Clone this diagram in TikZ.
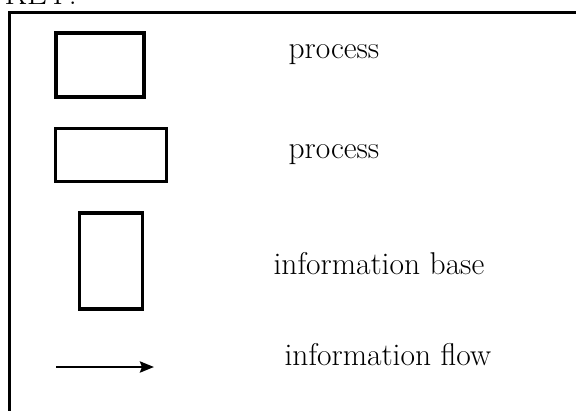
\documentclass[tikz,border=0pt]{standalone}
\usepackage{fontspec}
\usepackage{tikz}
\usetikzlibrary{arrows.meta}
\tikzset{
  keybox/.style={draw, line width=3.2pt, inner sep=0pt},
  keylabel/.style={anchor=base west, font=\fontsize{31.5}{36}\selectfont},
}
\begin{document}
\begin{tikzpicture}[x=1pt, y=-1pt]
  \useasboundingbox (0,0) rectangle (576,410);
  \clip (0,0) rectangle (576,410);

  % Title above the frame
  \node[keylabel] (keytitle) at (1,4) {KEY:};

  % Draw the frame (right and bottom sides run off the page)
  \draw[line width=3pt] (9,420) -- (9,12) -- (590,12);

  % Draw the symbols
  \node[keybox, minimum width=88pt, minimum height=64pt] (procsq) at (100,65) {};
  \node[keybox, minimum width=111pt, minimum height=53pt] (procwide) at (111,155) {};
  \node[keybox, minimum width=63pt, minimum height=96pt] (infobase) at (111,261) {};
  \coordinate (flowstart) at (56,367);
  \coordinate (flowend) at (154,367);
  \draw[line width=2.8pt, -{Stealth[length=14pt, width=11pt, inset=2pt]}] (flowstart) -- (flowend);

  % Label the symbols
  \node[keylabel] (proclabel) at (285,58) {process};
  \node[keylabel] (widelabel) at (285,158) {process};
  \node[keylabel] (baselabel) at (270,274) {information base};
  \node[keylabel] (flowlabel) at (281,365) {information flow};
\end{tikzpicture}
\end{document}
